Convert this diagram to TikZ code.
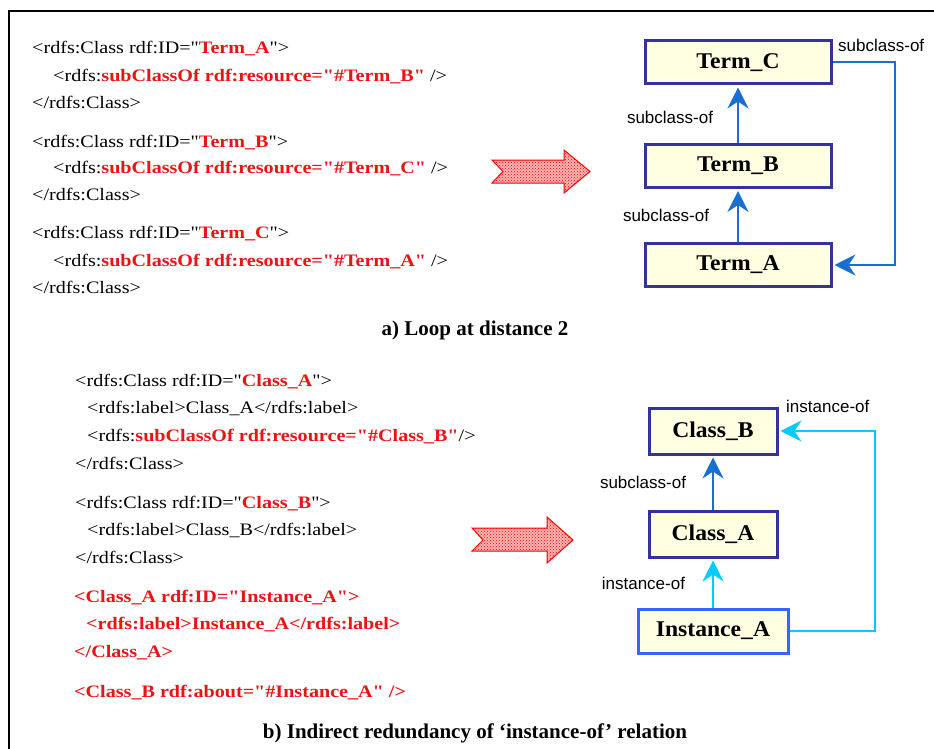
\documentclass[tikz,border=0pt]{standalone}
\usepackage{xcolor}
\usepackage{fontspec}
\setmainfont{Liberation Serif}
\newfontfamily\codefont[FakeStretch=1.15]{Liberation Serif}
\newfontfamily\boxfont[FakeStretch=1.05]{Liberation Serif}
\newfontfamily\lblfont{Liberation Sans}
\usetikzlibrary{arrows.meta, positioning, patterns}

\definecolor{codered}{RGB}{235,20,20}
\definecolor{boxline}{RGB}{51,51,153}
\definecolor{instline}{RGB}{51,102,255}
\definecolor{boxfill}{RGB}{255,255,226}
\definecolor{subblue}{RGB}{25,110,210}
\definecolor{instcyan}{RGB}{0,204,255}

\newcommand{\rd}[1]{\textcolor{codered}{\bfseries #1}}

\begin{document}
\begin{tikzpicture}[
    x=1pt, y=-1pt,
    % Styles
    frame/.style={draw=black, line width=2.5pt},
    code/.style={anchor=base west, inner sep=0pt, font=\codefont\fontsize{17.5}{21}\selectfont},
    caption/.style={anchor=base, inner sep=0pt, font=\fontsize{21}{24}\selectfont\bfseries},
    termbox/.style={rectangle, draw=boxline, line width=3pt, fill=boxfill, inner sep=0pt, font=\boxfont\fontsize{22.5}{24}\selectfont\bfseries},
    instbox/.style={termbox, draw=instline},
    lbl/.style={inner sep=0pt, font=\lblfont\fontsize{17}{20}\selectfont},
    bigarrow/.style={draw=red, line width=1pt, fill=red!30, postaction={pattern=crosshatch dots, pattern color=red}},
    subof/.style={-{Stealth[length=21pt, width=21pt, inset=7pt]}, draw=subblue, line width=2pt, shorten >=2pt},
    instof/.style={-{Stealth[length=21pt, width=21pt, inset=7pt]}, draw=instcyan, line width=2pt, shorten >=2pt}
]
\useasboundingbox (0,0) rectangle (934,749);

% Outer frame
\draw[frame] (9,749) -- (9,11) -- (934,11);

% a) RDF code
\node[code] (a1) at (32,54) {<rdfs:Class rdf:ID="\rd{Term\_A}">};
\node[code] (a2) at (53,82) {<rdfs:\rd{subClassOf rdf:resource="\#Term\_B"} />};
\node[code] (a3) at (32,109) {</rdfs:Class>};
\node[code] (a4) at (32,147) {<rdfs:Class rdf:ID="\rd{Term\_B}">};
\node[code] (a5) at (53,173) {<rdfs:\rd{subClassOf rdf:resource="\#Term\_C"} />};
\node[code] (a6) at (32,200) {</rdfs:Class>};
\node[code] (a7) at (32,238) {<rdfs:Class rdf:ID="\rd{Term\_C}">};
\node[code] (a8) at (53,266) {<rdfs:\rd{subClassOf rdf:resource="\#Term\_A"} />};
\node[code] (a9) at (32,293) {</rdfs:Class>};

% a) Red arrow
\draw[bigarrow] (492,160) -- (564,160) -- (564,150) -- (590,171.5) -- (564,193) -- (564,183) -- (492,183) -- (503,171.5) -- cycle;

% a) Terms
\node[termbox, minimum width=186pt, minimum height=43pt] (termC) at (738,62.5) {Term\_C};
\node[termbox, minimum width=186pt, minimum height=43pt] (termB) at (738,166) {Term\_B};
\node[termbox, minimum width=186pt, minimum height=43pt] (termA) at (738,265) {Term\_A};

\draw[subof] (termB.north) -- node[lbl, pos=0.45, left=24pt] {subclass-of} (termC.south);
\draw[subof] (termA.north) -- node[lbl, pos=0.5, left=28pt] {subclass-of} (termB.south);
\draw[subof] (termC.east) -- ++(62,0) |- (termA.east);
\node[lbl, anchor=base west] (loopA) at (838,52) {subclass-of};

\node[caption] (capA) at (475,335) {a) Loop at distance 2};

% b) RDF code
\node[code] (b1) at (75,386) {<rdfs:Class rdf:ID="\rd{Class\_A}">};
\node[code] (b2) at (87,413) {<rdfs:label>Class\_A</rdfs:label>};
\node[code] (b3) at (87,441) {<rdfs:\rd{subClassOf rdf:resource="\#Class\_B"}/>};
\node[code] (b4) at (75,469) {</rdfs:Class>};
\node[code] (b5) at (75,508) {<rdfs:Class rdf:ID="\rd{Class\_B}">};
\node[code] (b6) at (87,535) {<rdfs:label>Class\_B</rdfs:label>};
\node[code] (b7) at (75,563) {</rdfs:Class>};
\node[code] (b8) at (74,602) {\rd{<Class\_A rdf:ID="Instance\_A">}};
\node[code] (b9) at (86,629) {\rd{<rdfs:label>Instance\_A</rdfs:label>}};
\node[code] (b10) at (74,657) {\rd{</Class\_A>}};
\node[code] (b11) at (74,697) {\rd{<Class\_B rdf:about="\#Instance\_A" />}};

% b) Red arrow
\draw[bigarrow] (472,528) -- (547,528) -- (547,517) -- (573,540) -- (547,563) -- (547,551) -- (472,551) -- (483,540) -- cycle;

% b) Classes and instance
\node[termbox, minimum width=128pt, minimum height=46pt] (classB) at (713,431) {Class\_B};
\node[termbox, minimum width=128pt, minimum height=46pt] (classA) at (713,534) {Class\_A};
\node[instbox, minimum width=150pt, minimum height=44pt] (instA) at (713,631) {Instance\_A};

\draw[subof] (classA.north) -- node[lbl, pos=0.5, left=26pt] {subclass-of} (classB.south);
\draw[instof] (instA.north) -- node[lbl, pos=0.5, left=27pt] {instance-of} (classA.south);
\draw[instof] (instA.east) -- ++(85,0) |- (classB.east);
\node[lbl, anchor=base west] (loopB) at (786,412) {instance-of};

\node[caption] (capB) at (475,738) {b) Indirect redundancy of `instance-of' relation};

\end{tikzpicture}
\end{document}
